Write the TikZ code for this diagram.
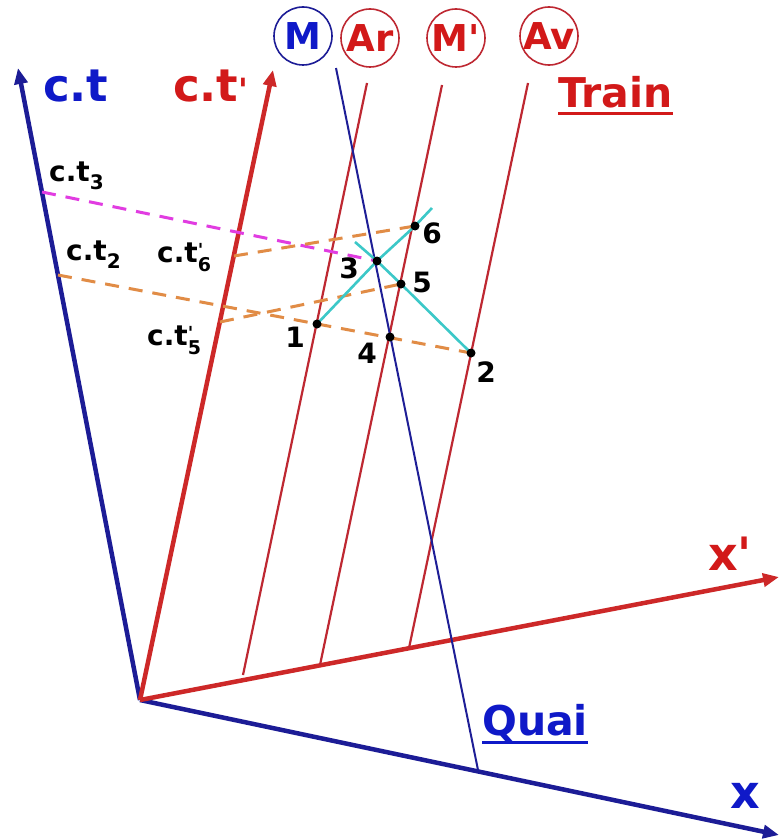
\documentclass[tikz,border=0pt]{standalone}
\usepackage{fontspec}
\setmainfont{DejaVu Sans}
\usetikzlibrary{arrows.meta}
\definecolor{axblue}{RGB}{28,28,150}
\definecolor{txtblue}{RGB}{15,25,200}
\definecolor{axred}{RGB}{205,40,40}
\definecolor{txtred}{RGB}{210,25,25}
\definecolor{wlred}{RGB}{190,40,50}
\definecolor{mblue}{RGB}{30,30,150}
\definecolor{dorange}{RGB}{225,140,70}
\definecolor{dmagenta}{RGB}{225,60,225}
\definecolor{lcyan}{RGB}{60,200,200}
\newcommand{\fs}[1]{\fontsize{#1}{#1}\selectfont}
\newcommand{\sbs}[1]{\raisebox{-8pt}{\fs{20}#1}}
\newcommand{\psbs}[1]{\rlap{\raisebox{6pt}{\fs{18}\textquotesingle}}\raisebox{-9pt}{\fs{19}#1}}
\begin{document}
\begin{tikzpicture}[x=1pt,y=-1pt,
  axis/.style={line width=4.5pt, -{Triangle[length=16pt,width=13pt]}},
  wl/.style={line width=2.2pt, draw=wlred},
  dsh/.style={line width=3pt, dash pattern=on 14pt off 10pt},
  lbl/.style={inner sep=0pt, anchor=base west},
  num/.style={inner sep=0pt, font=\fs{28}\bfseries},
  circ/.style={circle, draw, minimum size=58pt, inner sep=0pt, line width=1.6pt, font=\fs{37}\bfseries},
  small/.style={lbl, font=\fs{28}\bfseries}
]
\useasboundingbox (0,0) rectangle (779,840);
\fill[white] (0,0) rectangle (779,840);

% coordinates
\coordinate (O) at (140,700);
\coordinate (ctTip) at (18,68);
\coordinate (xTip) at (779,835);
\coordinate (ctpTip) at (273,70);
\coordinate (xpTip) at (779,577);
\coordinate (ArTop) at (367,83);
\coordinate (ArBot) at (243,675);
\coordinate (MpTop) at (442,85);
\coordinate (MpBot) at (320,665);
\coordinate (AvTop) at (528,83);
\coordinate (AvBot) at (409,648);
\coordinate (MTop) at (336,68);
\coordinate (MBot) at (478,770);
\coordinate (ct3) at (42,192);
\coordinate (ct2) at (58,275);
\coordinate (ctp5) at (220,322);
\coordinate (ctp6) at (234,256);
\coordinate (cyA) at (432,208);
\coordinate (cyB) at (355,242);

% axes
\draw[axis, axblue] (O) -- (ctTip);
\draw[axis, axblue] (O) -- (xTip);
\draw[axis, axred] (O) -- (ctpTip);
\draw[axis, axred] (O) -- (xpTip);

% world lines
\draw[wl] (ArTop) -- (ArBot);
\draw[wl] (MpTop) -- (MpBot);
\draw[wl] (AvTop) -- (AvBot);
\draw[line width=2pt, mblue] (MTop) -- (MBot);

% events
\coordinate (p1) at (317,324);
\coordinate (p2) at (471,353);
\coordinate (p3) at (377,261);
\coordinate (p4) at (390,337);
\coordinate (p5) at (401,284);
\coordinate (p6) at (415,226);

% dashed simultaneity lines
\draw[dsh, dmagenta] (ct3) -- (p3);
\draw[dsh, dorange] (ct2) -- (p2);
\draw[dsh, dorange] (ctp5) -- (p5);
\draw[dsh, dorange] (ctp6) -- (p6);

% light signals
\draw[line width=2.6pt, lcyan] (p1) -- (p3) -- (p6) -- (cyA);
\draw[line width=2.6pt, lcyan] (cyB) -- (p3) -- (p5) -- (p2);

% event dots
\foreach \p in {p1,p2,p3,p4,p5,p6} \fill[black] (\p) circle (4.5pt);

% numbers
\node[num] (n1) at (295,337) {1};
\node[num] (n2) at (486,372) {2};
\node[num] (n3) at (349,268) {3};
\node[num] (n4) at (367,353) {4};
\node[num] (n5) at (422,282) {5};
\node[num] (n6) at (432,233) {6};

% axis labels
\node[lbl, text=txtblue, font=\fs{45}\bfseries] (ctlab) at (43,102) {c.t};
\node[lbl, text=txtred, font=\fs{45}\bfseries] (ctplab) at (173,102) {c.t\raisebox{0pt}{\fs{32}\textquotesingle}};
\node[lbl, text=txtred, font=\fs{46}\bfseries] (xplab) at (708,570) {x\textquotesingle};
\node[lbl, text=txtblue, font=\fs{46}\bfseries] (xlab) at (730,808) {x};

\node[lbl, text=txtred, font=\fs{41}\bfseries] (train) at (558,108) {Train};
\draw[txtred, line width=3pt] ([yshift=-6pt]train.base west) -- ([yshift=-6pt]train.base east);
\node[lbl, text=txtblue, font=\fs{41}\bfseries] (quai) at (482,735) {Quai};
\draw[txtblue, line width=3pt] ([yshift=-7pt]quai.base west) -- ([yshift=-7pt]quai.base east);

% small labels
\node[small] (l3) at (49,181) {c.t\sbs{3}};
\node[small] (l2) at (66,260) {c.t\sbs{2}};
\node[small] (l6) at (157,262) {c.t\psbs{6}};
\node[small] (l5) at (147,345) {c.t\psbs{5}};

% circled names
\node[circ, draw=axblue, text=txtblue] (cM) at (303,36) {M};
\node[circ, draw=wlred, text=txtred] (cAr) at (370,38) {Ar};
\node[circ, draw=wlred, text=txtred] (cMp) at (456,38) {M\textquotesingle};
\node[circ, draw=wlred, text=txtred] (cAv) at (549,36) {Av};
\end{tikzpicture}
\end{document}
